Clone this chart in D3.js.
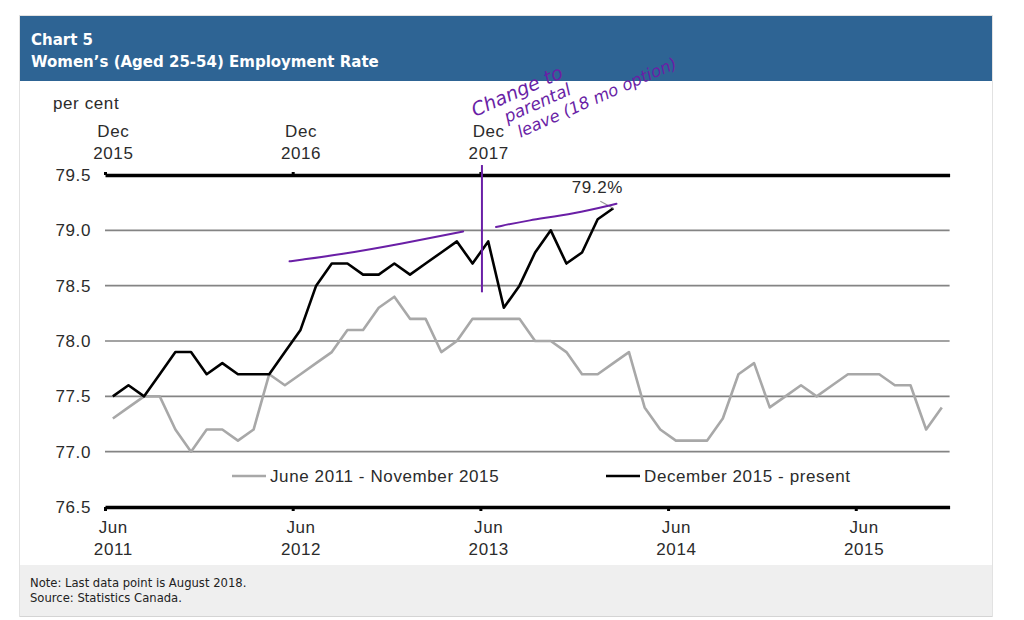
<!DOCTYPE html>
<html>
<head>
<meta charset="utf-8">
<script src="https://cdn.jsdelivr.net/npm/d3@7"></script>
<style>
  html, body { margin: 0; padding: 0; background: #fff; }
  svg { display: block; }
</style>
</head>
<body>
<svg id="chart" width="1024" height="620"></svg>
<script>
// ---------------- DATA ----------------
const title1 = "Chart 5";
const title2 = "Women\u2019s (Aged 25-54) Employment Rate";
const yUnit = "per cent";
const noteLines = ["Note: Last data point is August 2018.", "Source: Statistics Canada."];

// June 2011 - November 2015 (monthly, 54 points)
const seriesOldName = "June 2011 - November 2015";
const seriesOld = [
  77.3, 77.4, 77.5, 77.5, 77.2, 77.0, 77.2, 77.2, 77.1, 77.2,
  77.7, 77.6, 77.7, 77.8, 77.9, 78.1, 78.1, 78.3, 78.4, 78.2,
  78.2, 77.9, 78.0, 78.2, 78.2, 78.2, 78.2, 78.0, 78.0, 77.9,
  77.7, 77.7, 77.8, 77.9, 77.4, 77.2, 77.1, 77.1, 77.1, 77.3,
  77.7, 77.8, 77.4, 77.5, 77.6, 77.5, 77.6, 77.7, 77.7, 77.7,
  77.6, 77.6, 77.2, 77.4
];
// December 2015 - August 2018 (monthly, 33 points)
const seriesNewName = "December 2015 - present";
const seriesNew = [
  77.5, 77.6, 77.5, 77.7, 77.9, 77.9, 77.7, 77.8, 77.7, 77.7,
  77.7, 77.9, 78.1, 78.5, 78.7, 78.7, 78.6, 78.6, 78.7, 78.6,
  78.7, 78.8, 78.9, 78.7, 78.9, 78.3, 78.5, 78.8, 79.0, 78.7,
  78.8, 79.1, 79.2
];
const monthCount = 54;
const bottomTickIdx = [0, 12, 24, 36, 48];
const bottomTickLabels = [["Jun","2011"],["Jun","2012"],["Jun","2013"],["Jun","2014"],["Jun","2015"]];
const topTickIdx = [0, 12, 24];
const topTickLabels = [["Dec","2015"],["Dec","2016"],["Dec","2017"]];
const yTicks = [76.5, 77.0, 77.5, 78.0, 78.5, 79.0, 79.5];
const lastLabel = "79.2%";

// handwritten annotation (month index on top axis, value)
const annoText = ["Change to", "parental", "leave (18 mo option)"];
const annoCurve1 = [[11.8, 78.72], [12.3, 78.73], [15, 78.78], [19, 78.88], [22.9, 78.99]];
const annoCurve2 = [[25, 79.03], [27, 79.09], [30, 79.15], [32.7, 79.24]];
const annoVertical = [24.1, 79.59, 78.44];

// ---------------- DRAW ----------------
const svg = d3.select("#chart");
const panel = {x: 20, y: 16, w: 972, h: 601};

// panel border
svg.append("rect").attr("x", panel.x - 0.5).attr("y", panel.y - 0.5)
  .attr("width", panel.w + 1).attr("height", panel.h)
  .attr("fill", "#fff").attr("stroke", "#e2e2e2");

// header
svg.append("rect").attr("x", panel.x).attr("y", panel.y).attr("width", panel.w).attr("height", 65)
  .attr("fill", "#2e6494");
[title1, title2].forEach((t, i) => {
  svg.append("text").attr("x", 31).attr("y", 45 + i * 22).text(t)
    .attr("font-family", "DejaVu Sans, Verdana, sans-serif").attr("font-weight", "bold")
    .attr("font-size", 15).attr("fill", "#fff");
});

// note area
svg.append("rect").attr("x", panel.x).attr("y", 565).attr("width", panel.w).attr("height", 51)
  .attr("fill", "#efefef");
svg.append("line").attr("x1", panel.x).attr("x2", panel.x + panel.w).attr("y1", 616.5).attr("y2", 616.5)
  .attr("stroke", "#d4d4d4");
noteLines.forEach((t, i) => {
  svg.append("text").attr("x", 30).attr("y", 587 + i * 15).text(t)
    .attr("font-family", "DejaVu Sans, Verdana, sans-serif").attr("font-size", 11.6).attr("fill", "#222");
});

// scales
const x = d3.scaleLinear().domain([0, monthCount]).range([105, 949.6]);
const y = d3.scaleLinear().domain([76.5, 79.5]).range([507, 175]);
const FONT = "Liberation Sans, Arial, sans-serif";
const FS = 17, LS = 0.6;
const TXT = "#2b2b2b";

// gridlines
svg.append("g").selectAll("line").data(yTicks.filter(v => v > 76.5 && v < 79.5)).join("line")
  .attr("x1", x(0)).attr("x2", x(monthCount))
  .attr("y1", d => y(d)).attr("y2", d => y(d))
  .attr("stroke", "#848484").attr("stroke-width", 1.6);

// y labels
svg.append("g").selectAll("text").data(yTicks).join("text")
  .attr("x", 91).attr("y", d => y(d)).attr("dy", "0.36em")
  .attr("text-anchor", "end").attr("font-family", FONT).attr("font-size", FS)
  .attr("letter-spacing", LS).attr("fill", TXT)
  .text(d => d.toFixed(1));
svg.append("text").attr("x", 53).attr("y", 109).text(yUnit)
  .attr("font-family", FONT).attr("font-size", FS).attr("letter-spacing", LS).attr("fill", TXT);

// bottom axis
const axB = d3.axisBottom(x).tickValues(bottomTickIdx).tickSize(4).tickSizeOuter(0).tickFormat("");
const gB = svg.append("g").attr("transform", `translate(0,${y(76.5)})`).call(axB);
gB.select(".domain").attr("stroke", "#000").attr("stroke-width", 3.5);
gB.selectAll(".tick line").attr("stroke", "#000").attr("stroke-width", 3);
gB.selectAll(".tick").each(function(d, i) {
  const cx = x(d + 0.5) - x(d);
  const t = d3.select(this).append("text").attr("fill", TXT).attr("font-family", FONT)
    .attr("font-size", FS).attr("letter-spacing", LS).attr("text-anchor", "middle");
  t.append("tspan").attr("x", cx).attr("y", 26).text(bottomTickLabels[i][0]);
  t.append("tspan").attr("x", cx).attr("y", 48).text(bottomTickLabels[i][1]);
});

// top axis
const axT = d3.axisTop(x).tickValues(topTickIdx).tickSize(3).tickSizeOuter(0).tickFormat("");
const gT = svg.append("g").attr("transform", `translate(0,${y(79.5)})`).call(axT);
gT.select(".domain").attr("stroke", "#000").attr("stroke-width", 3.5);
gT.selectAll(".tick line").attr("stroke", "#000").attr("stroke-width", 3);
gT.selectAll(".tick").each(function(d, i) {
  const cx = x(d + 0.5) - x(d);
  const t = d3.select(this).append("text").attr("fill", TXT).attr("font-family", FONT)
    .attr("font-size", FS).attr("letter-spacing", LS).attr("text-anchor", "middle");
  t.append("tspan").attr("x", cx).attr("y", -38).text(topTickLabels[i][0]);
  t.append("tspan").attr("x", cx).attr("y", -16).text(topTickLabels[i][1]);
});

// series lines
const line = d3.line().x((d, i) => x(i + 0.5)).y(d => y(d));
svg.append("path").datum(seriesOld).attr("d", line)
  .attr("fill", "none").attr("stroke", "#a8a8a8").attr("stroke-width", 2.6).attr("stroke-linejoin", "round");
svg.append("path").datum(seriesNew).attr("d", line)
  .attr("fill", "none").attr("stroke", "#000").attr("stroke-width", 2.6).attr("stroke-linejoin", "round");

// last point label + leader
const li = seriesNew.length - 1;
const lx = x(li + 0.5), ly = y(seriesNew[li]);
svg.append("line").attr("x1", lx).attr("y1", ly).attr("x2", lx - 13).attr("y2", ly - 7)
  .attr("stroke", "#999").attr("stroke-width", 1.2);
svg.append("text").attr("x", lx - 16).attr("y", ly - 15).attr("text-anchor", "middle")
  .attr("font-family", FONT).attr("font-size", FS).attr("letter-spacing", LS).attr("fill", TXT).text(lastLabel);

// legend
const legY = 476;
const legend = [
  {name: seriesOldName, color: "#a8a8a8", x0: 232},
  {name: seriesNewName, color: "#000", x0: 606}
];
legend.forEach(l => {
  svg.append("line").attr("x1", l.x0).attr("x2", l.x0 + 34).attr("y1", legY).attr("y2", legY)
    .attr("stroke", l.color).attr("stroke-width", 2.6);
  svg.append("text").attr("x", l.x0 + 38).attr("y", legY).attr("dy", "0.36em")
    .attr("font-family", FONT).attr("font-size", FS).attr("letter-spacing", LS).attr("fill", TXT).text(l.name);
});

// handwritten annotations (purple)
const PURPLE = "#6a1fa6";
const cl = d3.line().x(d => x(d[0])).y(d => y(d[1])).curve(d3.curveBasis);
[annoCurve1, annoCurve2].forEach(c => {
  svg.append("path").datum(c).attr("d", cl).attr("fill", "none")
    .attr("stroke", PURPLE).attr("stroke-width", 2).attr("stroke-linecap", "round");
});
svg.append("line").attr("x1", x(annoVertical[0])).attr("x2", x(annoVertical[0]))
  .attr("y1", y(annoVertical[1])).attr("y2", y(annoVertical[2]))
  .attr("stroke", PURPLE).attr("stroke-width", 2);
const ag = svg.append("g").attr("transform", "translate(475,117) rotate(-24)");
const offs = [[0, 0, 19], [27, 18.5, 17], [33, 37.5, 16.5]];
annoText.forEach((t, i) => {
  ag.append("text").attr("x", offs[i][0]).attr("y", offs[i][1]).text(t)
    .attr("font-family", "DejaVu Sans, sans-serif").attr("font-style", "italic")
    .attr("font-size", offs[i][2]).attr("fill", PURPLE);
});
</script>
</body>
</html>
